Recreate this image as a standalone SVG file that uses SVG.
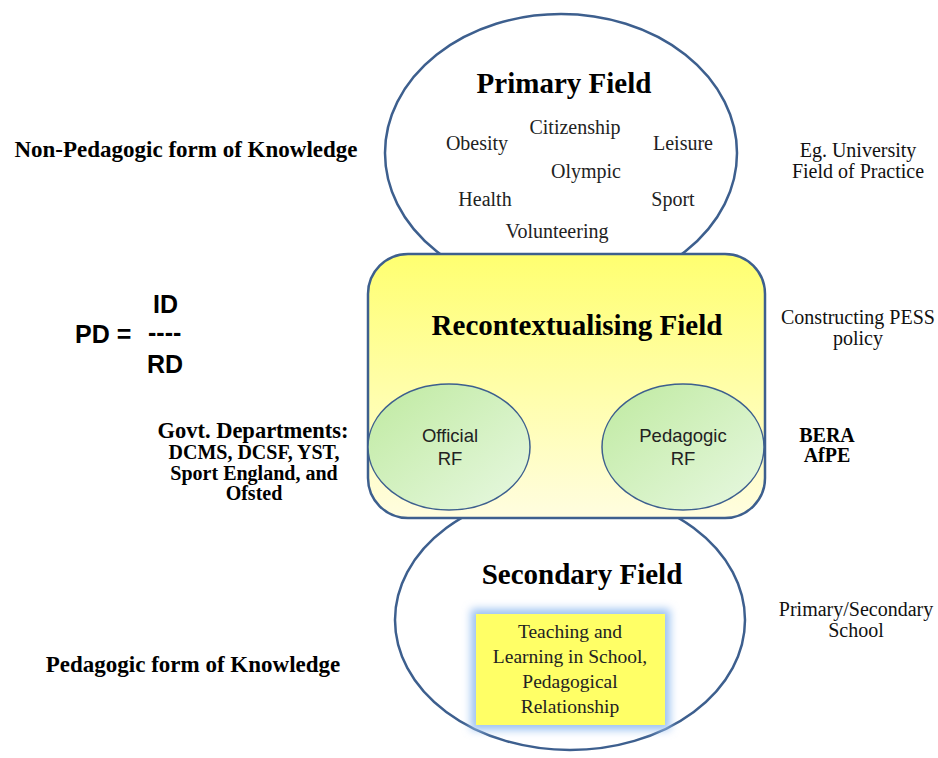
<svg xmlns="http://www.w3.org/2000/svg" width="938" height="758" viewBox="0 0 938 758">
<defs>
<linearGradient id="yel" x1="0" y1="0" x2="0" y2="1">
<stop offset="0" stop-color="#ffff70"/>
<stop offset="1" stop-color="#fffde0"/>
</linearGradient>
<linearGradient id="grn" x1="0" y1="0" x2="1" y2="1">
<stop offset="0" stop-color="#bfeaa0"/>
<stop offset="1" stop-color="#e8f8e2"/>
</linearGradient>
<filter id="glow" x="-20%" y="-20%" width="140%" height="140%">
<feGaussianBlur stdDeviation="4"/>
</filter>
<style>
.ol{fill:#fff;stroke:#3d5f8e;stroke-width:2.5}
.title{font-family:"Liberation Serif",serif;font-weight:bold;font-size:29px;fill:#000;text-anchor:middle}
.word{font-family:"Liberation Serif",serif;font-size:20px;fill:#222;text-anchor:middle}
.box{font-family:"Liberation Serif",serif;font-size:19.5px;fill:#222;text-anchor:middle}
.side{font-family:"Liberation Serif",serif;font-weight:bold;font-size:23px;fill:#000;text-anchor:middle}
.note{font-family:"Liberation Serif",serif;font-size:20px;fill:#111;text-anchor:middle}
.sans{font-family:"Liberation Sans",Arial,sans-serif;font-size:18.5px;fill:#222;text-anchor:middle}
.pd{font-family:"Liberation Sans",Arial,sans-serif;font-weight:bold;font-size:25px;fill:#000}
.gov{font-family:"Liberation Serif",serif;font-weight:bold;font-size:20px;fill:#000;text-anchor:middle}
</style>
</defs>
<g id="primary-field">
<ellipse class="ol" cx="561" cy="153" rx="176" ry="139"/>
<text class="title" x="564" y="93">Primary Field</text>
<text class="word" x="575" y="134">Citizenship</text>
<text class="word" x="477" y="150">Obesity</text>
<text class="word" x="683" y="150">Leisure</text>
<text class="word" x="586" y="178">Olympic</text>
<text class="word" x="485" y="206">Health</text>
<text class="word" x="673" y="206">Sport</text>
<text class="word" x="557" y="238">Volunteering</text>
</g>
<g id="secondary-field">
<ellipse class="ol" cx="570" cy="620" rx="175" ry="130"/>
<text class="title" x="582" y="584">Secondary Field</text>
<rect x="471" y="609" width="199" height="121" fill="#9cc2f2" filter="url(#glow)"/>
<rect x="476" y="614" width="189" height="111" fill="#ffff66"/>
<text class="box" x="570" y="638">Teaching and</text>
<text class="box" x="570" y="663">Learning in School,</text>
<text class="box" x="570" y="688">Pedagogical</text>
<text class="box" x="570" y="713">Relationship</text>
</g>
<g id="recontextualising-field">
<rect x="368" y="254" width="397" height="264" rx="40" ry="40" fill="url(#yel)" stroke="#3d5f8e" stroke-width="2.5"/>
<text class="title" x="577" y="335">Recontextualising Field</text>
</g>
<g id="official-rf">
<ellipse cx="449" cy="447" rx="81" ry="63" fill="url(#grn)" stroke="#3d5f8e" stroke-width="1.5"/>
<text class="sans" x="450" y="442">Official</text>
<text class="sans" x="450" y="465">RF</text>
</g>
<g id="pedagogic-rf">
<ellipse cx="683" cy="447" rx="81" ry="63" fill="url(#grn)" stroke="#3d5f8e" stroke-width="1.5"/>
<text class="sans" x="683" y="442">Pedagogic</text>
<text class="sans" x="683" y="465">RF</text>
</g>
<g id="labels">
<text class="side" x="186" y="157">Non-Pedagogic form of Knowledge</text>
<text class="side" x="193" y="672">Pedagogic form of Knowledge</text>
<text class="pd" x="153" y="313">ID</text>
<text class="pd" x="75" y="343">PD =</text>
<text class="pd" x="148" y="341">----</text>
<text class="pd" x="147" y="373">RD</text>
<text class="gov" x="253" y="438" style="font-size:22.5px">Govt. Departments:</text>
<text class="gov" x="254" y="459">DCMS, DCSF, YST,</text>
<text class="gov" x="254" y="480">Sport England, and</text>
<text class="gov" x="254" y="500">Ofsted</text>
<text class="note" x="858" y="157">Eg. University</text>
<text class="note" x="858" y="178">Field of Practice</text>
<text class="note" x="858" y="324">Constructing PESS</text>
<text class="note" x="858" y="345">policy</text>
<text class="gov" x="827" y="442">BERA</text>
<text class="gov" x="827" y="462">AfPE</text>
<text class="note" x="856" y="616">Primary/Secondary</text>
<text class="note" x="856" y="637">School</text>
</g>
</svg>
